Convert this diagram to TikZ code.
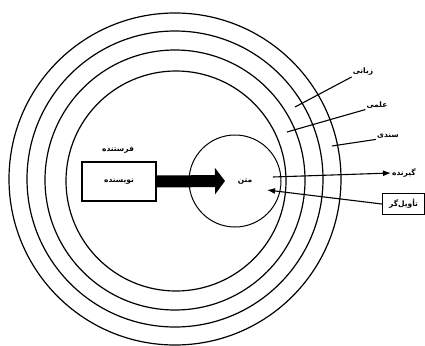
\documentclass[tikz,border=0pt]{standalone}
\usepackage{fontspec}
\TeXXeTstate=1
\newfontfamily\fa[Script=Arabic]{DejaVu Sans}
\usetikzlibrary{arrows.meta}
\begin{document}
\begin{tikzpicture}[x=1pt,y=-1pt,
  ring/.style={draw,circle,line width=1.2pt,inner sep=0pt},
  lbl/.style={font=\fa\bfseries\fontsize{7.5}{9}\selectfont,inner sep=1pt},
  conn/.style={line width=1.1pt},
  arr/.style={conn,-{Latex[length=8pt,width=6pt]}}]
\useasboundingbox (0,0) rectangle (425,345);
% rings
\node[ring,minimum size=332pt] (r1) at (175,179) {};
\node[ring,minimum size=296pt] (r2) at (175,179) {};
\node[ring,minimum size=260pt] (r3) at (175,180) {};
\node[ring,minimum size=220pt] (r4) at (176,181) {};
\node[ring,line width=1pt,minimum size=92pt] (small) at (235,181) {};
% sender box
\node[draw,line width=1.1pt,minimum width=74pt,minimum height=39pt,lbl] (nevis) at (119,181.5) {\beginR نویسنده\endR};
\node[lbl] (ferest) at (118,150) {\beginR فرستنده\endR};
\node[lbl] (matn) at (245,182) {\beginR متن\endR};
\coordinate (tip) at (225,181);
\draw[line width=12pt,-{Triangle[length=10pt,width=26pt]}] (nevis.east) -- (tip);
% labels on right
\node[lbl] (zabani) at (363,72) {\beginR زبانی\endR};
\node[lbl] (elmi) at (377,105) {\beginR علمی\endR};
\node[lbl] (sanadi) at (388,136) {\beginR سندی\endR};
\node[lbl] (girande) at (404,173) {\beginR گیرنده\endR};
\node[draw,line width=1.3pt,lbl,minimum width=42pt,minimum height=21pt] (tavil) at (403.5,204) {\beginR تأویل‌گر\endR};
\coordinate (zend) at (295,107);
\coordinate (eend) at (287,132);
\coordinate (send) at (332,146);
\coordinate (gstart) at (273,177);
\coordinate (tend) at (267,190);
\draw[conn] (zabani.south west) -- (zend);
\draw[conn] (elmi.south west) -- (eend);
\draw[conn] (sanadi.south west) -- (send);
\draw[arr] (gstart) -- (girande.west);
\draw[arr] (tavil.west) -- (tend);
\end{tikzpicture}
\end{document}
